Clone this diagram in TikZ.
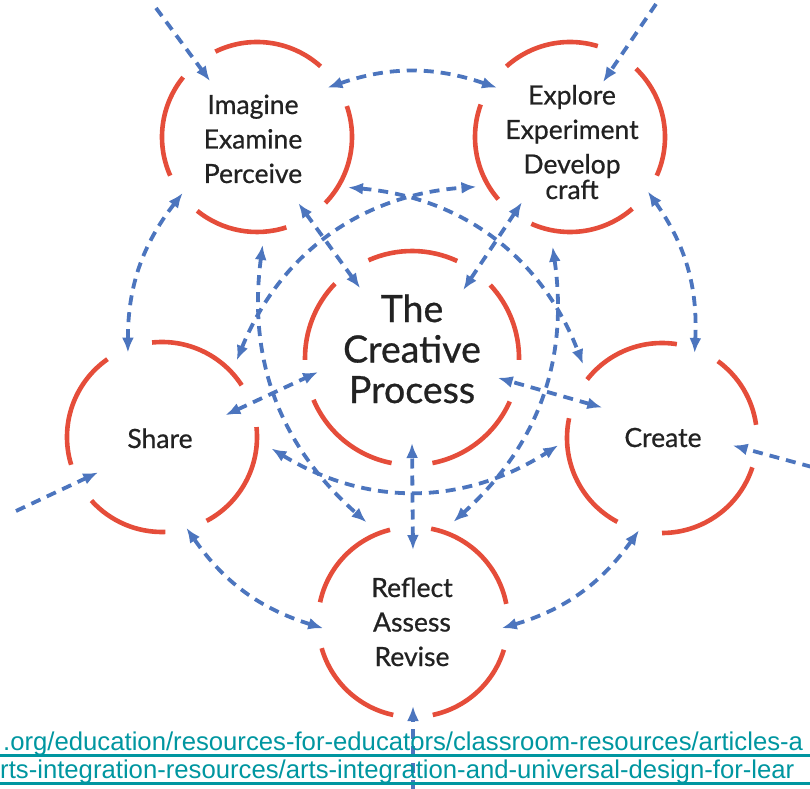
\documentclass[tikz,border=0pt]{standalone}
\usepackage{fontspec}
\setmainfont{Lato}
\newfontfamily\lblfont{Lato}[FakeBold=0.7]
\newfontfamily\linkfont{Liberation Sans}
\usetikzlibrary{arrows.meta,calc}
\definecolor{ringred}{RGB}{229,77,58}
\definecolor{arrowblue}{RGB}{76,117,190}
\definecolor{linkteal}{RGB}{0,150,160}
\definecolor{labelgray}{RGB}{34,34,34}
\begin{document}
\begin{tikzpicture}[x=1pt,y=1pt,
  ring/.style={ringred, line width=4.6pt},
  conn/.style={arrowblue, line width=3.8pt, dash pattern=on 10pt off 7pt,
    {Latex[length=15pt,width=12pt]}-{Latex[length=15pt,width=12pt]}},
  oneway/.style={arrowblue, line width=3.8pt, dash pattern=on 10pt off 7pt,
    -{Latex[length=15pt,width=12pt]}},
  lbl/.style={text=labelgray, font=\lblfont\fontsize{26.5}{34.5}\selectfont, align=center, anchor=base, inner sep=0pt},
  linktext/.style={text=linkteal, font=\linkfont\fontsize{25.7}{30}\selectfont, anchor=base west, inner sep=0pt},
  underl/.style={linkteal, line width=3pt}
]
\useasboundingbox (0,0) rectangle (810,788);
\clip (0,0) rectangle (810,788);

% circle centres
\coordinate (I) at (257,651);
\coordinate (E) at (570,651);
\coordinate (C) at (412,430);
\coordinate (S) at (162,351);
\coordinate (K) at (662,350);
\coordinate (R) at (413,166);

% rings
\foreach \a/\b in {48/116,141/204,231/288,316/379}
  \draw[ring] ($(I)+(\a:95)$) arc[start angle=\a,end angle=\b,radius=95];
\foreach \a/\b in {73/132,160/221,246/311,336/406}
  \draw[ring] ($(E)+(\a:95)$) arc[start angle=\a,end angle=\b,radius=95];
\foreach \a/\b in {65/114,136/181,203/259,281/336,359/403}
  \draw[ring] ($(C)+(\a:107)$) arc[start angle=\a,end angle=\b,radius=107];
\foreach \a/\b in {33/96,125/197,222/272,298/366}
  \draw[ring] ($(S)+(\a:95)$) arc[start angle=\a,end angle=\b,radius=95];
\foreach \a/\b in {81/142,168/242,270/342,368/414}
  \draw[ring] ($(K)+(\a:95)$) arc[start angle=\a,end angle=\b,radius=95];
\foreach \a/\b in {11/79,104/168,196/258,282/343}
  \draw[ring] ($(R)+(\a:95)$) arc[start angle=\a,end angle=\b,radius=95];

% labels (base = baseline of last line)
\node[lbl] (tI) at (253,605) {Imagine\\Examine\\Perceive};
\node[lbl] (tE) at (572,589) {Explore\\Experiment\\Develop\\[-9pt]craft};
\node[lbl] (tS) at (160,340) {Share};
\node[lbl] (tK) at (663,341) {Create};
\node[lbl] (tR) at (412,122) {Reflect\\Assess\\Revise};
\node[lbl, font=\lblfont\fontsize{37.5}{40.5}\selectfont] (tC) at (412,385) {The\\Creative\\Process};

% external inputs
\coordinate (xI) at (156,780);
\coordinate (xE) at (656,784);
\coordinate (xS) at (16,277);
\coordinate (xK) at (812,321);
\coordinate (xR) at (413,-2);
\draw[oneway] (xI) -- ($(I)+(130:73)$);
\draw[oneway] (xE) -- ($(E)+(59:64)$);
\draw[oneway] (xS) -- ($(S)+(209:73)$);
\draw[oneway] (xK) -- ($(K)+(-6:71)$);
\draw[oneway] (xR) -- ($(R)+(-90:84)$);

% neighbours around the ring
\draw[conn] ($(I)+(35:86)$) to[bend left=19] ($(E)+(146:88)$);
\draw[conn] ($(E)+(-35:95)$) to[bend left=19] ($(K)+(69:91)$);
\draw[conn] ($(K)+(256:95)$) to[bend left=19] ($(R)+(-4:89)$);
\draw[conn] ($(R)+(184:90)$) to[bend left=19] ($(S)+(-75:94)$);
\draw[conn] ($(S)+(112:91)$) to[bend left=19] ($(I)+(217:93)$);

% spokes to the centre
\draw[conn] ($(I)+(-58:78)$) -- ($(C)+(126.6:87)$);
\draw[conn] ($(E)+(233.6:81)$) -- ($(C)+(53:85)$);
\draw[conn] ($(S)+(19:67)$) -- ($(C)+(188.5:95)$);
\draw[conn] ($(K)+(153:67)$) -- ($(C)+(-13:88)$);
\draw[conn] ($(R)+(90:72)$) -- ($(C)+(-90:85)$);

% star arcs
\draw[conn] ($(I)+(-29:104)$) to[bend left=32] ($(K)+(137:108)$);
\draw[conn] ($(S)+(45.7:107)$) to[bend left=32] ($(E)+(208:106)$);
\draw[conn] ($(S)+(-6:110)$) to[bend right=32] ($(K)+(184:104)$);
\draw[conn] ($(I)+(-87:108)$) to[bend right=28] ($(R)+(115:110)$);
\draw[conn] ($(E)+(261:111)$) to[bend left=28] ($(R)+(68:108)$);

% link text
\node[linktext] (l1) at (3,38) {.org/education/resources-for-educators/classroom-resources/articles-a};
\node[linktext] (l2) at (0,10) {rts-integration-resources/arts-integration-and-universal-design-for-lear};
\draw[underl] (0,33) -- (810,33);
\draw[underl] (0,5) -- (810,5);
\end{tikzpicture}
\end{document}
